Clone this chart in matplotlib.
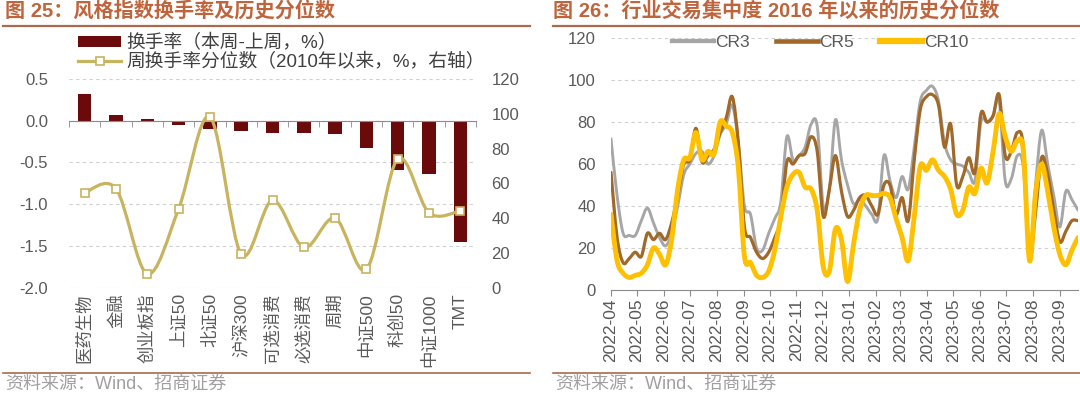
import numpy as np
import pandas as pd
import matplotlib
matplotlib.use("Agg")
import matplotlib.pyplot as plt
import matplotlib.dates as mdates
from matplotlib.path import Path
from matplotlib.patches import PathPatch, Patch
from matplotlib.lines import Line2D

plt.rcParams['font.family'] = ['Liberation Sans', 'Noto Sans CJK SC']

# ---- 图25 data ----
styles = ['医药生物', '金融', '创业板指', '上证50', '北证50', '沪深300', '可选消费',
          '必选消费', '周期', '中证500', '科创50', '中证1000', 'TMT']
turnover_chg = [0.32, 0.066, 0.025, -0.05, -0.10, -0.124, -0.15, -0.15, -0.16, -0.33, -0.595, -0.636, -1.45]
turnover_pct = [54.6, 56.9, 7.9, 45.2, 98.2, 19.2, 50.2, 23.2, 39.9, 10.5, 74.0, 43.0, 44.2]

# ---- 图26 data (weekly) ----
first_week = '2022-04-01'
cr3 = [72, 45, 27, 26, 26, 33, 39, 32, 25, 21, 27, 40, 55, 60, 65, 66, 60, 64, 74, 79,
       88, 70, 40, 36, 20, 19, 27, 34, 42, 73, 62, 64, 68, 79, 78, 40, 48, 81, 62,
       50, 41, 43, 40, 36, 34, 64, 52, 44, 54, 48, 68, 90, 95, 97, 90, 70, 62, 60,
       59, 56, 52, 80, 80, 83, 90, 52, 53, 64, 58, 14, 50, 76, 60, 45, 30, 47, 43, 38]
cr5 = [56, 25, 13, 15, 18, 16, 27, 24, 27, 24, 32, 45, 60, 62, 77, 61, 64, 67, 75, 82,
       92, 70, 30, 25, 18, 15, 18, 25, 34, 61, 60, 64, 65, 73, 66, 35, 48, 64, 47,
       35, 38, 44, 45, 40, 36, 50, 50, 36, 44, 33, 62, 86, 92, 93, 88, 68, 79, 50,
       54, 63, 56, 84, 80, 83, 93, 64, 66, 75, 68, 16, 37, 63, 55, 38, 23, 28, 33, 33]
cr10 = [36, 14, 8, 6, 7, 8, 12, 20, 17, 12, 24, 48, 62, 63, 75, 62, 66, 65, 80, 78,
        75, 58, 16, 13, 7, 6, 9, 19, 35, 49, 55, 56, 49, 48, 38, 11, 9, 29, 24,
        4, 22, 38, 45, 45, 45, 46, 44, 34, 25, 14, 35, 59, 57, 62, 57, 54, 48, 36,
        38, 49, 46, 58, 51, 66, 84, 73, 66, 71, 66, 14, 46, 60, 47, 30, 17, 12, 19, 25]
dates = pd.date_range(first_week, periods=len(cr3), freq='7D')

BAR = '#6B0A0A'
GOLD = '#C8B35E'
TXT = '#595959'
TITLE = '#C0643C'
RULE = '#A86A4A'


def smooth_path(xs, ys):
    # excel-style smoothed line drawn as cubic bezier through the data points
    p = np.column_stack([np.asarray(xs, float), np.asarray(ys, float)])
    ext = np.vstack([p[0], p, p[-1]])
    verts = [p[0]]
    codes = [Path.MOVETO]
    for i in range(len(p) - 1):
        c1 = ext[i + 1] + (ext[i + 2] - ext[i]) / 6
        c2 = ext[i + 2] - (ext[i + 3] - ext[i + 1]) / 6
        verts += [c1, c2, p[i + 1]]
        codes += [Path.CURVE4] * 3
    return Path(verts, codes)


fig = plt.figure(figsize=(10.8, 3.94), dpi=100)

# titles, rules and source lines
fig.text(5 / 1080, 1 - 12 / 394, '图 25：风格指数换手率及历史分位数', color=TITLE,
         fontsize=14.5, fontweight='bold', va='center', ha='left')
fig.text(553 / 1080, 1 - 12 / 394, '图 26：行业交易集中度 2016 年以来的历史分位数', color=TITLE,
         fontsize=14.5, fontweight='bold', va='center', ha='left')
for x0, x1 in [(3, 530), (553, 1080)]:
    fig.add_artist(Line2D([x0 / 1080, x1 / 1080], [1 - 26 / 394] * 2, color=RULE, lw=1.6))
    fig.add_artist(Line2D([x0 / 1080, x1 / 1080], [1 - 373 / 394] * 2, color=RULE, lw=1.2))
    fig.text((x0 + 2) / 1080, 1 - 384 / 394, '资料来源：Wind、招商证券', color='#A0A0A0',
             fontsize=13, va='center', ha='left')

# ---- left chart ----
ax = fig.add_axes([69 / 1080, 106.4 / 394, 407 / 1080, 208.6 / 394])
x = np.arange(len(styles))
ax.bar(x, turnover_chg, width=0.43, color=BAR, zorder=2)
ax.set_xlim(-0.5, len(styles) - 0.5)
ax.set_ylim(-2.0, 0.5)
ax.set_yticks(np.arange(-2.0, 0.51, 0.5))
ax.set_yticklabels([f'{v:.1f}' for v in np.arange(-2.0, 0.51, 0.5)])
ax.yaxis.grid(True, linestyle=(0, (3, 3)), color='#D0D0D0', lw=0.8)
ax.set_axisbelow(True)
for s in ['left', 'right', 'top']:
    ax.spines[s].set_visible(False)
ax.spines['bottom'].set_position(('data', 0))
ax.spines['bottom'].set_color('#8C8C8C')
ax.set_xticks(x)
ax.set_xticklabels([])
ax.tick_params(axis='x', which='major', length=0)
ax.set_xticks(np.arange(-0.5, len(styles)), minor=True)
ax.tick_params(axis='x', which='minor', length=4, color='#8C8C8C', direction='out')
ax.tick_params(axis='y', length=0, pad=15, labelsize=12, labelcolor=TXT)

sec = ax.secondary_xaxis(0)
sec.set_xticks(x)
sec.set_xticklabels(styles, rotation=90, va='top', ha='center')
sec.tick_params(length=0, pad=4, labelsize=12.5, labelcolor=TXT)
sec.spines['bottom'].set_visible(False)

ax2 = ax.twinx()
ax2.set_ylim(0, 120)
ax2.set_yticks(range(0, 121, 20))
ax2.tick_params(axis='y', length=0, pad=11, labelsize=12, labelcolor=TXT)
for s in ax2.spines.values():
    s.set_visible(False)
ax2.add_patch(PathPatch(smooth_path(x, turnover_pct), fill=False, edgecolor=GOLD,
                        lw=2.3, capstyle='round', joinstyle='round', zorder=3))
ax2.plot(x, turnover_pct, ls='none', marker='s', ms=5.5, mfc='white', mec=GOLD,
         mew=1.2, zorder=4)

handles = [Patch(facecolor=BAR),
           Line2D([], [], color=GOLD, lw=2.3, marker='s', ms=5.5, mfc='white', mec=GOLD, mew=1.2)]
fig.legend(handles, ['换手率（本周-上周，%）', '周换手率分位数（2010年以来，%，右轴）'],
           loc='upper left', bbox_to_anchor=(78 / 1080, 1 - 34 / 394), frameon=False,
           fontsize=13.5, handlelength=2.3, handleheight=0.55, handletextpad=0.3,
           labelspacing=0.05, borderpad=0, borderaxespad=0, labelcolor='#404040')

# ---- right chart ----
bx = fig.add_axes([611 / 1080, 104 / 394, 467 / 1080, 252 / 394])
xd = mdates.date2num(dates)
series = [('CR3', cr3, '#A6A6A6', 2.1, 2), ('CR5', cr5, '#A0692A', 2.3, 3), ('CR10', cr10, '#FFC000', 3.5, 4)]
leg = []
for name, vals, col, lw, z in series:
    bx.add_patch(PathPatch(smooth_path(xd, vals), fill=False, edgecolor=col, lw=lw,
                           capstyle='round', joinstyle='round', zorder=z))
    leg.append(Line2D([], [], color=col, lw=lw + 1))
bx.set_xlim(xd[0], xd[-1])
bx.set_ylim(0, 120)
bx.set_yticks(range(0, 121, 20))
bx.yaxis.grid(True, linestyle=(0, (3, 3)), color='#D0D0D0', lw=0.8)
bx.set_axisbelow(True)
for s in ['left', 'right', 'top']:
    bx.spines[s].set_visible(False)
bx.spines['bottom'].set_color('#8C8C8C')
bx.xaxis.set_major_locator(mdates.MonthLocator())
bx.xaxis.set_major_formatter(mdates.DateFormatter('%Y-%m'))
bx.tick_params(axis='x', length=4, color='#8C8C8C', labelrotation=90, labelsize=12.5,
               labelcolor=TXT, pad=2)
bx.tick_params(axis='y', length=0, pad=11, labelsize=12, labelcolor=TXT)
bx.legend(leg, ['CR3', 'CR5', 'CR10'], loc='center left', ncol=3,
          bbox_to_anchor=(672 / 1080, 1 - 42 / 394), bbox_transform=fig.transFigure,
          frameon=False, fontsize=12.5, handlelength=2.4, handletextpad=0.1,
          columnspacing=1.5, borderpad=0, borderaxespad=0, labelcolor=TXT)

fig.savefig('out.png', dpi=100)
